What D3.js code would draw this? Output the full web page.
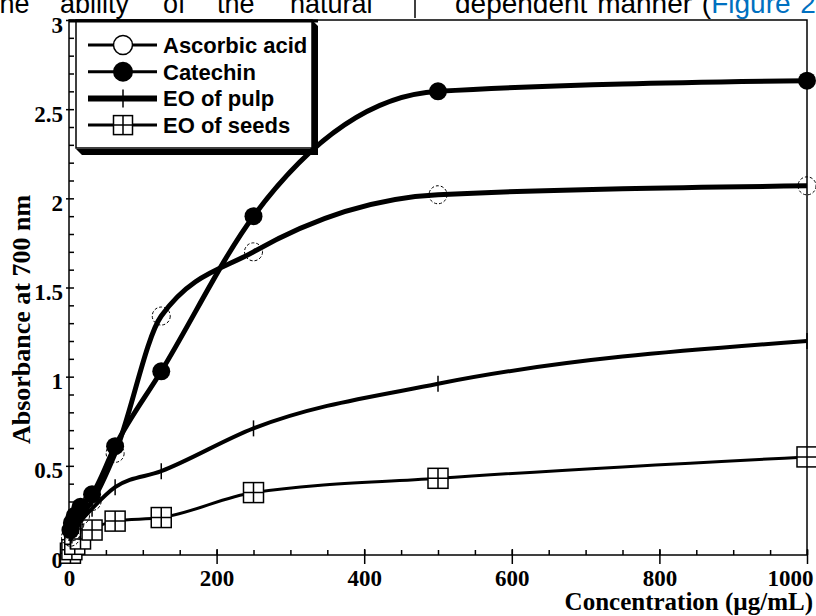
<!DOCTYPE html>
<html>
<head>
<meta charset="utf-8">
<script src="https://cdn.jsdelivr.net/npm/d3@7"></script>
<style>
  body { margin: 0; background: #fff; }
  svg { display: block; }
</style>
</head>
<body>
<svg id="chart" width="816" height="616"></svg>
<script>
// concentrations (µg/mL)
const concentrations = [1.95, 3.9, 7.8, 15.6, 31.25, 62.5, 125, 250, 500, 1000];
// absorbance at 700 nm
const ascorbicAcid = [0.10, 0.13, 0.17, 0.22, 0.30, 0.57, 1.34, 1.70, 2.02, 2.07];
const catechin     = [0.14, 0.18, 0.22, 0.27, 0.34, 0.61, 1.03, 1.90, 2.60, 2.66];
const eoPulp       = [0.08, 0.11, 0.15, 0.19, 0.26, 0.38, 0.47, 0.71, 0.96, 1.20];
const eoSeeds      = [0.01, 0.03, 0.06, 0.09, 0.14, 0.19, 0.21, 0.35, 0.43, 0.55];

const seriesNames = ["Ascorbic acid", "Catechin", "EO of pulp", "EO of seeds"];
const xTicks = [0, 200, 400, 600, 800, 1000];
const yTicks = [0, 0.5, 1, 1.5, 2, 2.5, 3];

const series = [
    { name: seriesNames[0], values: ascorbicAcid, marker: "open", width: 5 },
    { name: seriesNames[1], values: catechin, marker: "filled", width: 5 },
    { name: seriesNames[2], values: eoPulp, marker: "plus", width: 4 },
    { name: seriesNames[3], values: eoSeeds, marker: "square", width: 3 }
];

const svg = d3.select("#chart");

const x = d3.scaleLinear().domain([0, 1000]).range([69, 807]);
const y = d3.scaleLinear().domain([0, 3]).range([555, 20]);

// text from the surrounding page
const topWords = [
    { t: "the", x: -8 }, { t: "ability", x: 60 }, { t: "of", x: 163 },
    { t: "the", x: 217 }, { t: "natural", x: 290 }
];
svg.append("g")
    .style("font", "27px 'Liberation Sans', Arial, sans-serif")
    .selectAll("text")
    .data(topWords)
    .join("text")
    .attr("x", d => d.x)
    .attr("y", 13)
    .text(d => d.t);
svg.append("line")
    .attr("x1", 415).attr("x2", 415).attr("y1", 0).attr("y2", 18)
    .attr("stroke", "#000").attr("stroke-width", 1.5);
svg.append("text")
    .attr("x", 455)
    .attr("y", 13)
    .style("font", "28px 'Liberation Sans', Arial, sans-serif")
    .style("word-spacing", "2px")
    .call(t => t.append("tspan").text("dependent manner ("))
    .call(t => t.append("tspan").attr("fill", "#0070c0").text("Figure 2"));

// frame
svg.append("rect")
    .attr("x", x(0)).attr("y", y(3))
    .attr("width", x(1000) - x(0)).attr("height", y(0) - y(3))
    .attr("fill", "none").attr("stroke", "#000").attr("stroke-width", 1.5);

const tickFont = "bold 23px 'Liberation Serif', 'Times New Roman', serif";

// x axis
const xAxisG = svg.append("g").attr("transform", `translate(0,${y(0)})`);
xAxisG.append("g")
    .call(d3.axisBottom(x).tickValues(d3.range(0, 1001, 50)).tickSize(-5).tickFormat(""));
xAxisG.append("g")
    .call(d3.axisBottom(x).tickValues(xTicks).tickSize(-6).tickFormat(""));
xAxisG.append("g")
    .call(d3.axisBottom(x).tickValues(xTicks).tickSize(9).tickPadding(6).tickFormat(d3.format("d")))
    .call(g => g.selectAll("text")
        .attr("fill", "#000")
        .style("font", tickFont))
    .call(g => g.selectAll(".tick:last-of-type text")
        .attr("text-anchor", "end")
        .attr("dx", 6));
xAxisG.selectAll(".domain").remove();
xAxisG.selectAll(".tick line").attr("stroke-width", 1.5);

// y axis
const yAxisG = svg.append("g").attr("transform", `translate(${x(0)},0)`);
yAxisG.append("g")
    .call(d3.axisLeft(y).tickValues(d3.range(0, 31).map(i => i / 10)).tickSize(-5).tickFormat(""));
yAxisG.append("g")
    .call(d3.axisLeft(y).tickValues(yTicks).tickSize(3).tickPadding(3).tickFormat(d3.format("")))
    .call(g => g.selectAll("text")
        .attr("fill", "#000")
        .attr("dy", 12)
        .style("font", tickFont));
yAxisG.selectAll(".domain").remove();
yAxisG.selectAll(".tick line").attr("stroke-width", 1.5);

// axis titles
svg.append("text")
    .attr("transform", `translate(30,${(447 + 192) / 2}) rotate(-90)`)
    .attr("text-anchor", "middle")
    .style("font", "bold 26px 'Liberation Serif', 'Times New Roman', serif")
    .text("Absorbance at 700 nm");
svg.append("text")
    .attr("x", 813)
    .attr("y", 610)
    .attr("text-anchor", "end")
    .style("font", "bold 25px 'Liberation Serif', 'Times New Roman', serif")
    .text("Concentration (µg/mL)");

// lines and markers
const line = d3.line()
    .x(d => x(d[0]))
    .y(d => y(d[1]))
    .curve(d3.curveMonotoneX);

function drawMarker(g, type, size) {
    const r = size / 2;
    if (type === "open") {
        g.append("circle").attr("r", r * 0.9)
            .attr("fill", "none").attr("stroke", "#000").attr("stroke-width", 1)
            .attr("stroke-dasharray", "3,2");
    } else if (type === "filled") {
        g.append("circle").attr("r", r * 0.9).attr("fill", "#000");
    } else if (type === "plus") {
        g.append("line").attr("y1", -r * 0.8).attr("y2", r * 0.8)
            .attr("stroke", "#000").attr("stroke-width", 1.5);
    } else if (type === "square") {
        g.append("rect").attr("x", -r).attr("y", -r).attr("width", size).attr("height", size)
            .attr("fill", "#fff").attr("stroke", "#000").attr("stroke-width", 1.5);
        g.append("path").attr("d", `M0,${-r}V${r}M${-r},0H${r}`)
            .attr("stroke", "#000").attr("stroke-width", 1.5);
    }
}

const plot = svg.append("g");
series.slice().reverse().forEach(s => {
    const pts = concentrations.map((c, i) => [c, s.values[i]]);
    const g = plot.append("g");
    g.append("path")
        .attr("d", line(pts))
        .attr("fill", "none")
        .attr("stroke", "#000")
        .attr("stroke-width", s.width)
        .attr("stroke-linejoin", "round");
    g.selectAll("g.m")
        .data(pts)
        .join("g")
        .attr("class", "m")
        .attr("transform", d => `translate(${x(d[0])},${y(d[1])})`)
        .each(function () { drawMarker(d3.select(this), s.marker, 20); });
});

// legend
const legend = svg.append("g");
legend.append("path")
    .attr("d", "M312,20L318,26L318,155L82,155L76,149L312,149Z")
    .attr("fill", "#000");
legend.append("rect")
    .attr("x", 76).attr("y", 20).attr("width", 236).attr("height", 128)
    .attr("fill", "#fff").attr("stroke", "#000").attr("stroke-width", 1.5);
legend.append("line")
    .attr("x1", 69).attr("x2", 318).attr("y1", 21).attr("y2", 21)
    .attr("stroke", "#000").attr("stroke-width", 3);

const legendRows = legend.selectAll("g.item")
    .data(series)
    .join("g")
    .attr("class", "item")
    .attr("transform", (d, i) => `translate(0,${45 + i * 26.7})`);
legendRows.append("line")
    .attr("x1", 88).attr("x2", 157)
    .attr("stroke", "#000")
    .attr("stroke-width", d => d.marker === "plus" ? 6 : 3);
legendRows.each(function (d) {
    const m = d3.select(this).append("g").attr("transform", "translate(123,0)");
    if (d.marker === "open") {
        m.append("circle").attr("r", 9.5).attr("fill", "#fff").attr("stroke", "#000").attr("stroke-width", 1.5);
    } else if (d.marker === "filled") {
        m.append("circle").attr("r", 10).attr("fill", "#000");
    } else if (d.marker === "plus") {
        m.append("line").attr("y1", -9).attr("y2", 9).attr("stroke", "#000").attr("stroke-width", 1.5);
    } else {
        drawMarker(m, "square", 19);
    }
});
legendRows.append("text")
    .attr("x", 163)
    .attr("y", 8)
    .style("font", "bold 22px 'Liberation Sans', Arial, sans-serif")
    .text(d => d.name);
</script>
</body>
</html>
